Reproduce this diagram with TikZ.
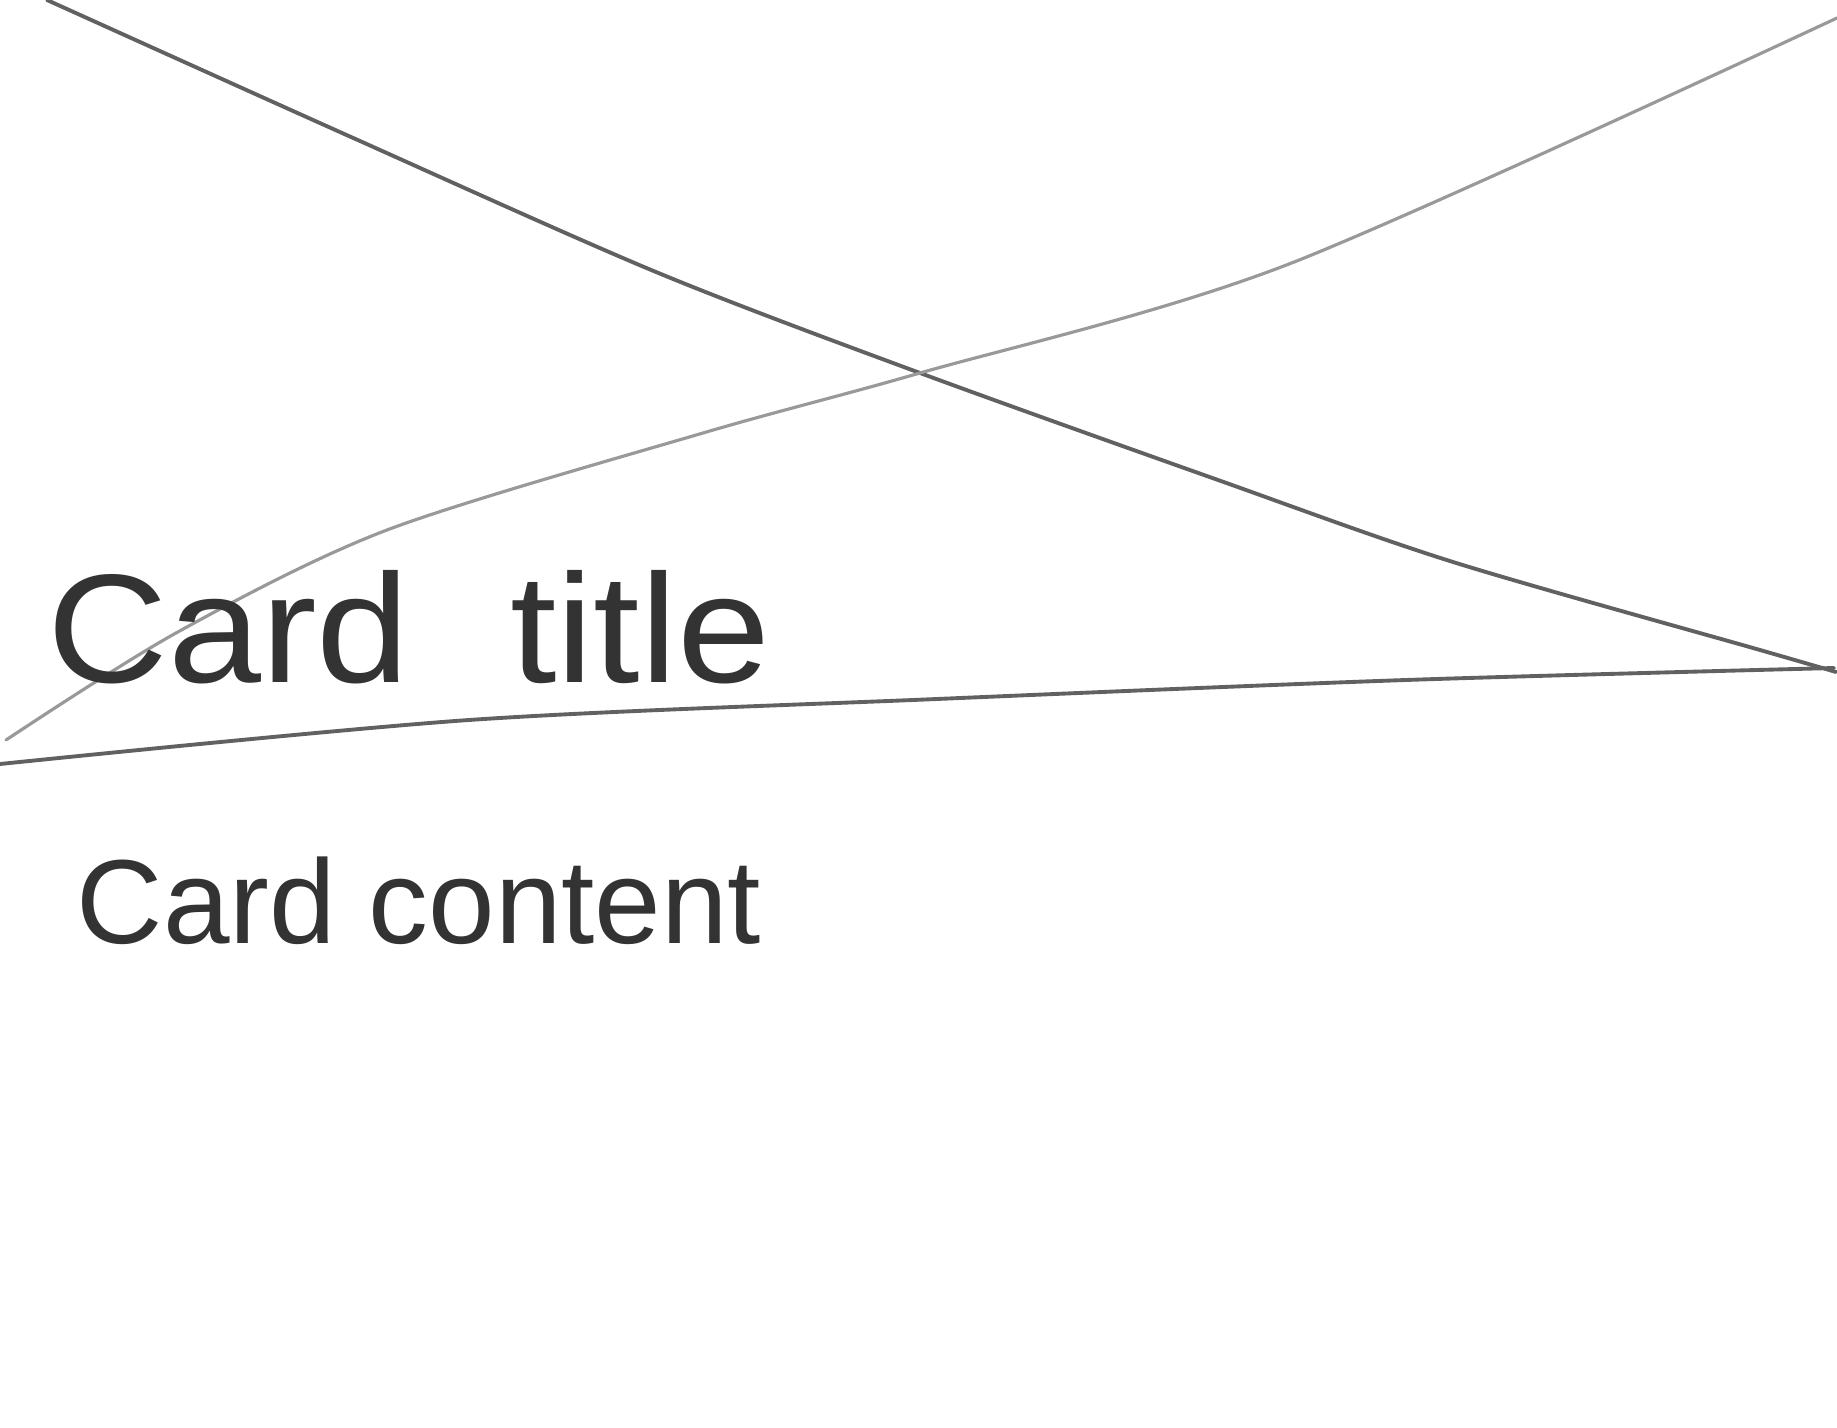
\documentclass[tikz,border=0pt]{standalone}
\usepackage{fontspec}
\setmainfont{Liberation Sans}
\usetikzlibrary{positioning}

\begin{document}
\begin{tikzpicture}[x=0.01cm,y=-0.01cm,line cap=round,
    pencil/.style={line width=1.1pt,color=black!62},
    faint/.style={line width=0.9pt,color=black!40},
    scribble/.style={anchor=base west,inner sep=0pt,text=black!80}]
        \useasboundingbox (0,0) rectangle (1837,1428);
        % image placeholder cross
        \coordinate (tl) at (47,0);
        \coordinate (br) at (1836,672);
        \coordinate (bl) at (6,740);
        \coordinate (tr) at (1837,18);
        \draw[pencil] plot[smooth] coordinates {(tl) (351,137) (656,272) (920,373) (1218,480) (1453,562) (1760,650) (br)};
        \draw[faint] plot[smooth] coordinates {(bl) (176,633) (387,530) (703,433) (920,373) (1289,264) (tr)};
        % divider under the title
        \coordinate (dl) at (0,764);
        \coordinate (dr) at (1834,668);
        \draw[pencil] plot[smooth] coordinates {(dl) (469,720) (937,699) (1406,680) (dr)};
        \node[scribble,font=\fontsize{44}{48}\selectfont,xscale=1.08] (title) at (47,682) {Card\hspace{0.6em}title};
        \node[scribble,font=\fontsize{34}{40}\selectfont] (content) at (76,943) {Card content};
    \end{tikzpicture}
\end{document}
